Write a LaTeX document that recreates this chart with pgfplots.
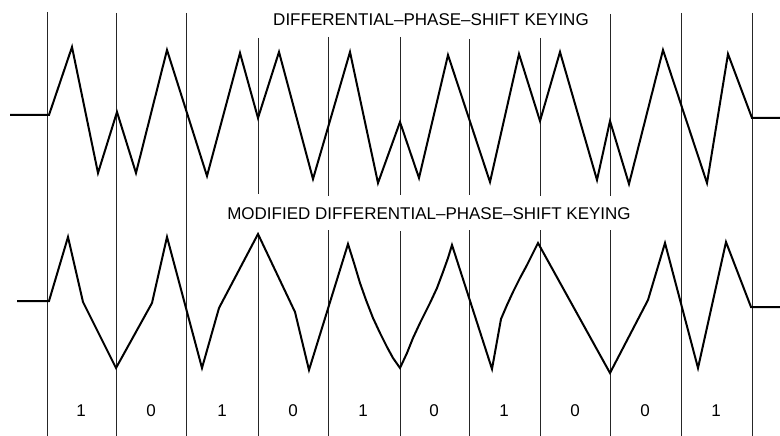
\documentclass[border=0pt]{standalone}
\usepackage{pgfplots}
\pgfplotsset{compat=1.18}
\usepackage{fontspec}
\setmainfont{Liberation Sans}
\newcommand{\fs}{\fontsize{17}{20}\selectfont}
\begin{document}
\begin{tikzpicture}
\begin{axis}[
  scale only axis, width=780pt, height=436pt,
  xmin=0, xmax=780, ymin=0, ymax=436, y dir=reverse,
  hide axis, clip=false, unbounded coords=jump,
]
\coordinate (A) at (rel axis cs:0,0);
\coordinate (B) at (rel axis cs:1,1);
% bit boundaries
\addplot[black!85, line width=1pt] coordinates {
(47,12) (47,436) (47,nan)
(116,13) (116,436) (116,nan)
(186,13) (186,436) (186,nan)
(258,38) (258,194) (258,nan) (258,233) (258,436) (258,nan)
(328,37) (328,196) (328,nan) (328,230) (328,436) (328,nan)
(400,37) (400,195) (400,nan) (400,231) (400,436) (400,nan)
(469,39) (469,195) (469,nan) (469,230) (469,436) (469,nan)
(540,38) (540,196) (540,nan) (540,230) (540,436) (540,nan)
(610,14) (610,196) (610,nan) (610,230) (610,436) (610,nan)
(681,13) (681,436) (681,nan)
(752,13) (752,436)
};
% DPSK
\addplot[black, line width=2pt, line join=miter] coordinates {
(10,115) (49,115) (72,47) (98,173) (117,112) (136,173) (167,50) (207,176)
(240,53) (258,118) (279,52) (313,179) (350,52) (378,183) (400,122) (419,178)
(448,55) (490,182) (519,54) (540,121) (560,52) (597,180) (610,121) (629,184)
(663,50) (707,183) (728,54) (752,118) (780,118)
};
% MDPSK
\addplot[black, line width=2pt, line join=miter] coordinates {
(17,301) (49,301) (68,237) (83,302) (116,368) (152,303) (167,237) (202,368)
(219,308) (258,234) (295,312) (309,370) (348,244)
(354,263) (360,283) (366,300) (373,318) (380,333) (387,347) (393,358) (400,368)
(407,353) (413,338) (420,323) (430,303) (437,288) (443,272) (448,258) (452,245)
(492,369) (501,319) (507,305) (513,292) (520,278) (527,265) (533,253) (538,243)
(610,373) (648,300) (665,243) (698,368) (726,242) (751,307) (780,307)
};
\node[font=\fs] at (axis cs:431,20) {DIFFERENTIAL–PHASE–SHIFT KEYING};
\node[font=\fs] at (axis cs:429,214) {MODIFIED DIFFERENTIAL–PHASE–SHIFT KEYING};
\node[font=\fs] at (axis cs:81,411) {1};
\node[font=\fs] at (axis cs:151,411) {0};
\node[font=\fs] at (axis cs:222,411) {1};
\node[font=\fs] at (axis cs:293,411) {0};
\node[font=\fs] at (axis cs:363,411) {1};
\node[font=\fs] at (axis cs:434,411) {0};
\node[font=\fs] at (axis cs:504,411) {1};
\node[font=\fs] at (axis cs:575,411) {0};
\node[font=\fs] at (axis cs:645,411) {0};
\node[font=\fs] at (axis cs:716,411) {1};
\end{axis}
\pgfresetboundingbox
\useasboundingbox (A) rectangle (B);
\end{tikzpicture}
\end{document}
